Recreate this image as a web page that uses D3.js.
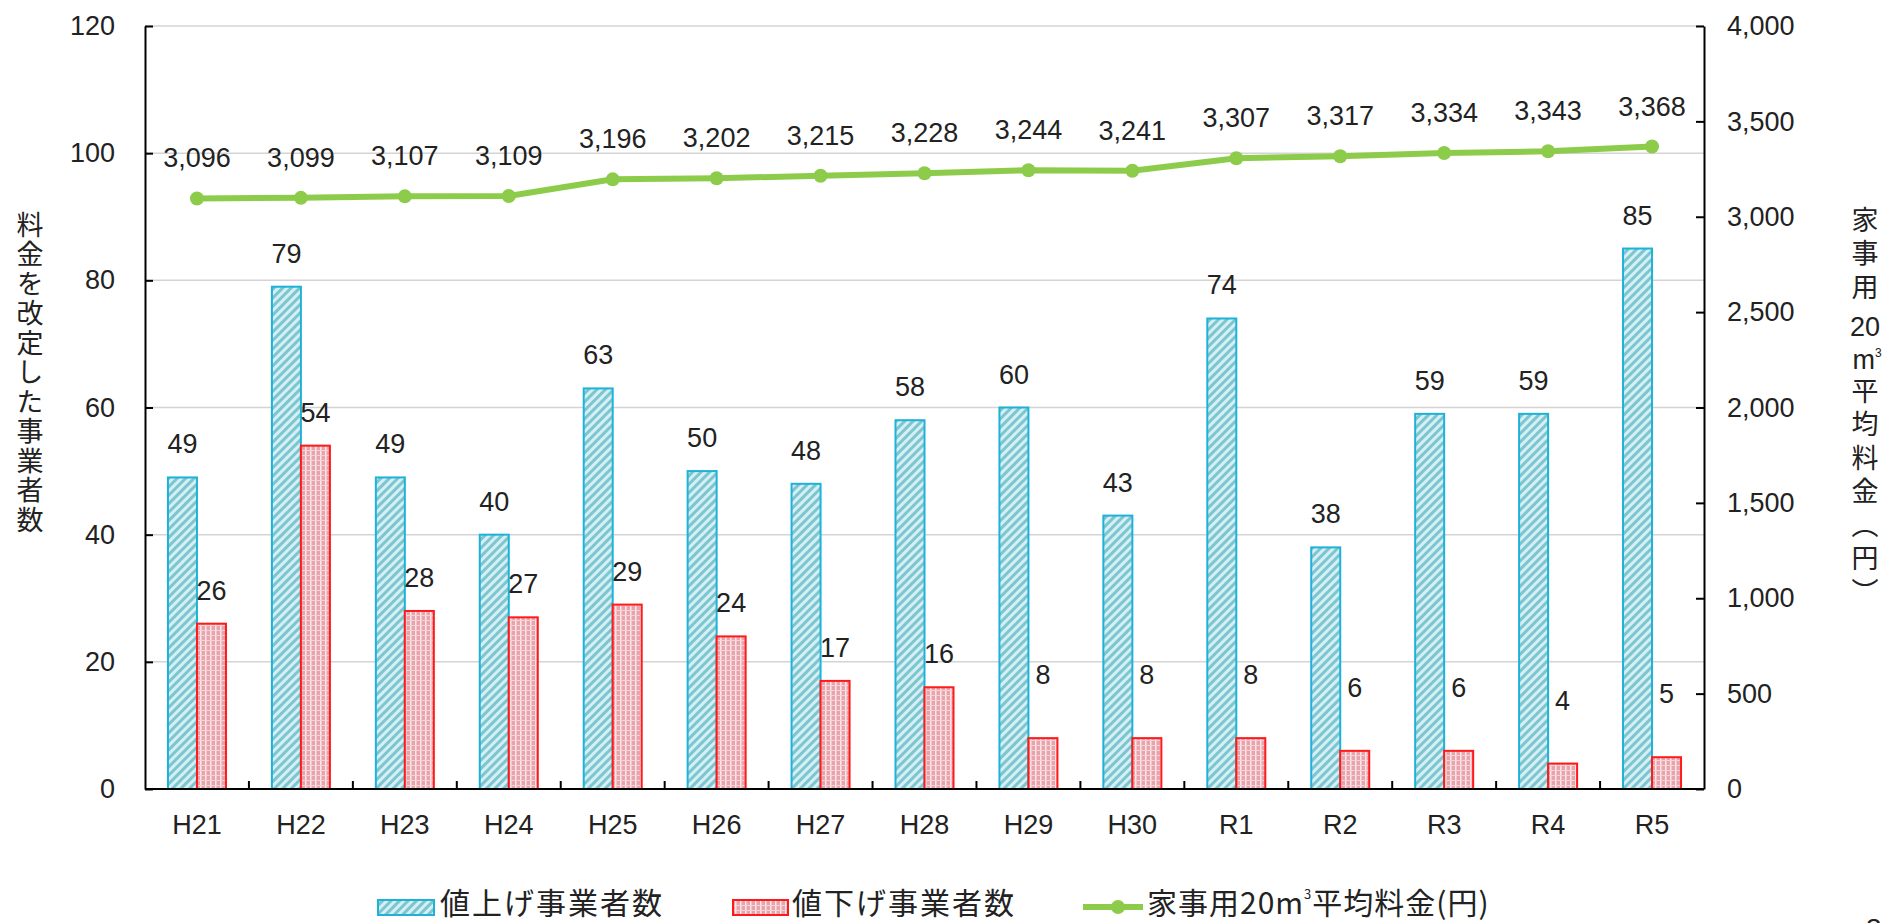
<!DOCTYPE html>
<html>
<head>
<meta charset="utf-8">
<script src="https://cdn.jsdelivr.net/npm/d3@7"></script>
<style>
    body { margin: 0; background: #fff; }
    svg { display: block; }
    .axis text { font-family: "Liberation Sans", Arial, sans-serif; font-size: 27px; fill: #222; }
    .axis path, .axis line { stroke: #000; stroke-width: 2; }
    .val { font-family: "Liberation Sans", Arial, sans-serif; font-size: 27px; fill: #222; text-anchor: middle; }
    .jp { font-family: "Noto Sans CJK JP", sans-serif; fill: #222; }
    .num { font-family: "Liberation Sans", Arial, sans-serif; fill: #222; }
    .vert { writing-mode: vertical-rl; }
</style>
</head>
<body>
<svg id="chart" width="1884" height="923"></svg>
<script>
// 年度
var years = ["H21", "H22", "H23", "H24", "H25", "H26", "H27", "H28", "H29", "H30", "R1", "R2", "R3", "R4", "R5"];
// 値上げ事業者数
var raised = [49, 79, 49, 40, 63, 50, 48, 58, 60, 43, 74, 38, 59, 59, 85];
// 値下げ事業者数
var lowered = [26, 54, 28, 27, 29, 24, 17, 16, 8, 8, 8, 6, 6, 4, 5];
// 家事用20m3平均料金(円)
var avgFee = [3096, 3099, 3107, 3109, 3196, 3202, 3215, 3228, 3244, 3241, 3307, 3317, 3334, 3343, 3368];

var leftTicks = [0, 20, 40, 60, 80, 100, 120];
var rightTicks = [0, 500, 1000, 1500, 2000, 2500, 3000, 3500, 4000];
var leftTitle = "料金を改定した事業者数";
var seriesNames = ["値上げ事業者数", "値下げ事業者数", "家事用20m", "3", "平均料金(円)"];

/**
 * 料金改定事業者数と平均料金の複合グラフ
 */
function createFeeChart() {
    var svg = d3.select("#chart"),
        left = 145, right = 1704, top = 26, bottom = 789;

    var x = d3.scaleBand()
        .domain(years)
        .range([left, right]);

    var yL = d3.scaleLinear().domain([0, 120]).range([bottom, top]);
    var yR = d3.scaleLinear().domain([0, 4000]).range([bottom, top]);

    var barW = 29;
    var cx = function (d) { return x(d) + x.bandwidth() / 2; };

    // patterns
    var defs = svg.append("defs");
    var pb = defs.append("pattern")
        .attr("id", "hatchBlue")
        .attr("width", 6).attr("height", 6)
        .attr("patternUnits", "userSpaceOnUse")
        .attr("patternTransform", "rotate(45)");
    pb.append("rect").attr("width", 6).attr("height", 6).attr("fill", "#d6eff3");
    pb.append("line").attr("x1", 1.5).attr("x2", 1.5).attr("y1", 0).attr("y2", 6)
        .attr("stroke", "#7cc6d2").attr("stroke-width", 3);

    var pr = defs.append("pattern")
        .attr("id", "gridRed")
        .attr("width", 5).attr("height", 5)
        .attr("patternUnits", "userSpaceOnUse");
    pr.append("rect").attr("width", 5).attr("height", 5).attr("fill", "#e8a4ad");
    pr.append("line").attr("x1", 0.75).attr("x2", 0.75).attr("y1", 0).attr("y2", 5)
        .attr("stroke", "#fbe6e8").attr("stroke-width", 1.5);
    pr.append("line").attr("x1", 0).attr("x2", 5).attr("y1", 0.5).attr("y2", 0.5)
        .attr("stroke", "#f6d2d6").attr("stroke-width", 1);

    // grid lines
    svg.append("g").selectAll("line")
        .data(leftTicks.slice(1))
        .enter().append("line")
        .attr("x1", left).attr("x2", right)
        .attr("y1", function (d) { return yL(d); })
        .attr("y2", function (d) { return yL(d); })
        .attr("stroke", "#d4d4d4")
        .attr("stroke-width", 1.5);

    // bars
    svg.append("g").selectAll("rect")
        .data(years)
        .enter().append("rect")
        .attr("x", function (d) { return cx(d) - barW; })
        .attr("y", function (d, i) { return yL(raised[i]); })
        .attr("width", barW)
        .attr("height", function (d, i) { return bottom - yL(raised[i]); })
        .attr("fill", "url(#hatchBlue)")
        .attr("stroke", "#1eb2d9")
        .attr("stroke-width", 2);

    svg.append("g").selectAll("rect")
        .data(years)
        .enter().append("rect")
        .attr("x", function (d) { return cx(d); })
        .attr("y", function (d, i) { return yL(lowered[i]); })
        .attr("width", barW)
        .attr("height", function (d, i) { return bottom - yL(lowered[i]); })
        .attr("fill", "url(#gridRed)")
        .attr("stroke", "#ff1a1a")
        .attr("stroke-width", 2);

    // bar labels
    svg.append("g").selectAll("text")
        .data(years)
        .enter().append("text")
        .attr("class", "val")
        .attr("x", function (d) { return cx(d) - barW / 2; })
        .attr("y", function (d, i) { return yL(raised[i]) - 24; })
        .text(function (d, i) { return raised[i]; });

    svg.append("g").selectAll("text")
        .data(years)
        .enter().append("text")
        .attr("class", "val")
        .attr("x", function (d) { return cx(d) + barW / 2; })
        .attr("y", function (d, i) { return yL(lowered[i]) - (lowered[i] < 10 ? 54 : 24); })
        .text(function (d, i) { return lowered[i]; });

    // axes
    svg.append("g")
        .attr("class", "axis")
        .attr("transform", "translate(" + left + ",0)")
        .call(d3.axisLeft(yL).tickValues(leftTicks).tickSizeInner(-8).tickSizeOuter(0).tickPadding(30));

    svg.append("g")
        .attr("class", "axis")
        .attr("transform", "translate(" + right + ",0)")
        .call(d3.axisRight(yR).tickValues(rightTicks).tickSizeInner(-8).tickSizeOuter(0)
            .tickPadding(23).tickFormat(d3.format(",")));

    svg.append("g")
        .attr("class", "axis")
        .attr("transform", "translate(0," + bottom + ")")
        .call(d3.axisBottom(x).tickSize(0).tickPadding(26))
        .call(function (g) { g.select(".domain").attr("d", "M" + left + ",0H" + right); });

    svg.append("g").selectAll("line")
        .data(years.slice(1))
        .enter().append("line")
        .attr("x1", function (d) { return x(d); })
        .attr("x2", function (d) { return x(d); })
        .attr("y1", bottom).attr("y2", bottom - 8)
        .attr("stroke", "#000").attr("stroke-width", 2);

    // line
    var line = d3.line()
        .x(function (d, i) { return cx(years[i]); })
        .y(function (d) { return yR(d); });

    svg.append("path")
        .datum(avgFee)
        .attr("d", line)
        .attr("fill", "none")
        .attr("stroke", "#8dcc4a")
        .attr("stroke-width", 6);

    svg.append("g").selectAll("circle")
        .data(avgFee)
        .enter().append("circle")
        .attr("cx", function (d, i) { return cx(years[i]); })
        .attr("cy", function (d) { return yR(d); })
        .attr("r", 7)
        .attr("fill", "#8dcc4a");

    svg.append("g").selectAll("text")
        .data(avgFee)
        .enter().append("text")
        .attr("class", "val")
        .attr("x", function (d, i) { return cx(years[i]); })
        .attr("y", function (d) { return yR(d) - 31; })
        .text(d3.format(","));

    // axis titles (vertical)
    svg.append("text")
        .attr("class", "jp vert")
        .attr("x", 30).attr("y", 211)
        .attr("font-size", 27)
        .attr("letter-spacing", 2.5)
        .text(leftTitle);

    var rx = 1865;
    svg.append("text")
        .attr("class", "jp vert")
        .attr("x", rx).attr("y", 206)
        .attr("font-size", 27)
        .attr("letter-spacing", 6.5)
        .text("家事用");
    svg.append("text")
        .attr("class", "num")
        .attr("x", rx).attr("y", 336)
        .attr("text-anchor", "middle")
        .attr("font-size", 27)
        .text("20");
    var m3 = svg.append("text")
        .attr("class", "num")
        .attr("x", rx + 2).attr("y", 369)
        .attr("text-anchor", "middle")
        .attr("font-size", 27);
    m3.append("tspan").text("m");
    m3.append("tspan").attr("font-size", 12).attr("dy", -12).text("3");
    svg.append("text")
        .attr("class", "jp vert")
        .attr("x", rx).attr("y", 377)
        .attr("font-size", 27)
        .attr("letter-spacing", 6.5)
        .text("平均料金（円）");

    // legend
    var lg = svg.append("g");
    lg.append("rect").attr("x", 378).attr("y", 900).attr("width", 56).attr("height", 15)
        .attr("fill", "url(#hatchBlue)").attr("stroke", "#1eb2d9").attr("stroke-width", 2);
    lg.append("text").attr("class", "jp").attr("x", 440).attr("y", 914)
        .attr("font-size", 30).attr("letter-spacing", 2).text(seriesNames[0]);

    lg.append("rect").attr("x", 733).attr("y", 900).attr("width", 55).attr("height", 15)
        .attr("fill", "url(#gridRed)").attr("stroke", "#ff1a1a").attr("stroke-width", 2);
    lg.append("text").attr("class", "jp").attr("x", 792).attr("y", 914)
        .attr("font-size", 30).attr("letter-spacing", 2).text(seriesNames[1]);

    lg.append("line").attr("x1", 1083).attr("x2", 1143).attr("y1", 907).attr("y2", 907)
        .attr("stroke", "#8dcc4a").attr("stroke-width", 6);
    lg.append("circle").attr("cx", 1118).attr("cy", 907).attr("r", 7).attr("fill", "#8dcc4a");
    var t = lg.append("text").attr("class", "jp").attr("x", 1147).attr("y", 914)
        .attr("font-size", 30).attr("letter-spacing", 1);
    t.append("tspan").text(seriesNames[2]);
    t.append("tspan").attr("font-size", 13).attr("dy", -15).text(seriesNames[3]);
    t.append("tspan").attr("dy", 15).text(seriesNames[4]);

    // page number (cut off)
    svg.append("text").attr("x", 1866).attr("y", 938)
        .attr("font-family", "Liberation Sans, Arial, sans-serif")
        .attr("font-size", 28).attr("fill", "#222").text("3");
}

createFeeChart();
</script>
</body>
</html>
